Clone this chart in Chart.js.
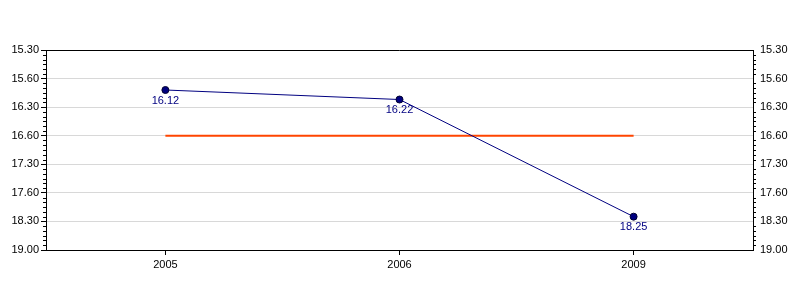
<!DOCTYPE html>
<html>
<head>
<meta charset="utf-8">
<script src="https://cdn.jsdelivr.net/npm/chart.js@4/dist/chart.umd.min.js"></script>
<style>
  html, body { margin: 0; padding: 0; background: #fff; }
  #wrap { width: 800px; height: 300px; }
</style>
</head>
<body>
<div id="wrap"><canvas id="myChart" width="800" height="300"></canvas></div>
<script>
// values (minutes.seconds style)
const years = ['2005', '2006', '2009'];
const times = [16.12, 16.22, 18.25];
const target = [16.60, 16.60, 16.60];
const tickLabels = ['15.30', '15.60', '16.30', '16.60', '17.30', '17.60', '18.30', '19.00'];

// 16.60 -> 16*60 + 60 seconds
function toSec(v) {
    v = parseFloat(v);
    const m = Math.floor(v);
    return m * 60 + Math.round((v - m) * 100);
}

const tickValues = tickLabels.map(toSec);
const yMin = tickValues[0];
const yMax = tickValues[tickValues.length - 1];

function tickText(value) {
    const i = tickValues.indexOf(value);
    return i >= 0 ? tickLabels[i] : '';
}

const font = { family: 'Liberation Sans, Arial, sans-serif', size: 11 };

const yAxis = (pos, w) => ({
    type: 'linear',
    position: pos,
    reverse: true,
    min: yMin,
    max: yMax,
    afterBuildTicks: (s) => { s.ticks = tickValues.map(v => ({ value: v })); },
    afterFit: (s) => { s.width = w; },
    grid: {
        display: pos === 'left',
        color: '#d8d8d8',
        lineWidth: 1,
        drawTicks: true,
        tickLength: 5,
        tickColor: '#000'
    },
    border: { color: '#000', width: 1 },
    ticks: {
        color: '#000',
        font: font,
        padding: 2,
        callback: (v) => tickText(v)
    }
});

// frame, minor ticks and value labels
const extras = {
    id: 'extras',
    afterDraw(chart) {
        const ctx = chart.ctx;
        const a = chart.chartArea;
        ctx.save();
        ctx.strokeStyle = '#000';
        ctx.lineWidth = 1;
        ctx.beginPath();
        ctx.moveTo(a.left, a.top + 0.5);
        ctx.lineTo(a.right, a.top + 0.5);
        ctx.stroke();

        const y = chart.scales.y;
        ctx.beginPath();
        for (let v = yMin; v <= yMax; v += 5) {
            if ((v - yMin) % 30 === 0) continue;
            const py = Math.round(y.getPixelForValue(v)) + 0.5;
            ctx.moveTo(a.left - 3, py);
            ctx.lineTo(a.left, py);
            ctx.moveTo(a.right, py);
            ctx.lineTo(a.right + 3, py);
        }
        ctx.stroke();

        const meta = chart.getDatasetMeta(0);
        ctx.fillStyle = '#000080';
        ctx.font = '11px Liberation Sans, Arial, sans-serif';
        ctx.textAlign = 'center';
        ctx.textBaseline = 'top';
        meta.data.forEach((p, i) => {
            ctx.fillText(times[i].toFixed(2), p.x, p.y + 5);
        });
        ctx.restore();
    }
};

new Chart(document.getElementById('myChart'), {
    type: 'line',
    data: {
        datasets: [{
            data: times.map((t, i) => ({ x: i, y: toSec(t) })),
            borderColor: '#000080',
            borderWidth: 1,
            pointRadius: 3.5,
            pointBackgroundColor: '#000080',
            pointBorderColor: '#000030',
            pointBorderWidth: 1,
            tension: 0
        }, {
            data: target.map((t, i) => ({ x: i, y: toSec(t) })),
            borderColor: '#ff4500',
            borderWidth: 2,
            pointRadius: 0,
            tension: 0
        }]
    },
    options: {
        responsive: false,
        animation: false,
        layout: { padding: { top: 50, bottom: 0, left: 0, right: 0 } },
        plugins: {
            legend: { display: false },
            tooltip: { enabled: false }
        },
        scales: {
            x: {
                type: 'linear',
                min: -0.51,
                max: years.length - 1 + 0.51,
                afterBuildTicks: (s) => { s.ticks = years.map((y, i) => ({ value: i })); },
                afterFit: (s) => { s.height = 50; },
                grid: {
                    display: true,
                    drawOnChartArea: false,
                    tickLength: 5,
                    tickColor: '#000'
                },
                border: { color: '#000', width: 1 },
                ticks: {
                    color: '#000',
                    font: font,
                    padding: 3,
                    maxRotation: 0,
                    callback: (v) => years[v] !== undefined ? years[v] : ''
                }
            },
            y: yAxis('left', 46),
            y1: yAxis('right', 47)
        }
    },
    plugins: [extras]
});
</script>
</body>
</html>
